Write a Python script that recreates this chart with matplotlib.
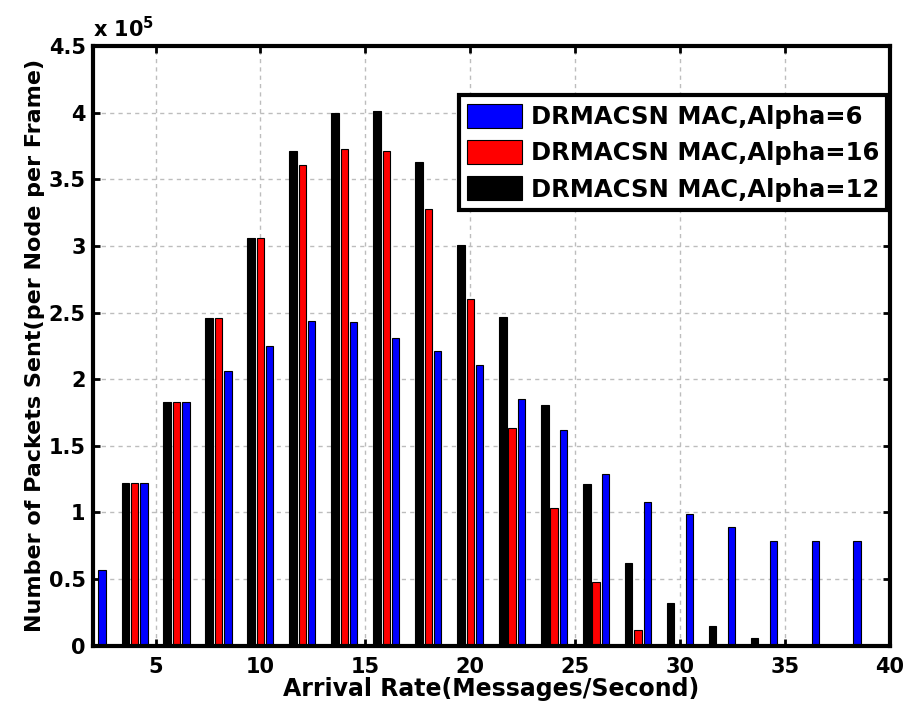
import matplotlib
matplotlib.use("Agg")
import matplotlib.pyplot as plt
import numpy as np

plt.rcParams['font.family'] = ['DejaVu Sans']
plt.rcParams['font.weight'] = 'bold'

arrival_rate = [2, 4, 6, 8, 10, 12, 14, 16, 18, 20, 22, 24, 26, 28, 30, 32, 34, 36, 38]
alpha6 = [0.57, 1.22, 1.83, 2.06, 2.25, 2.44, 2.43, 2.31, 2.21, 2.11, 1.85, 1.62, 1.29,
          1.08, 0.99, 0.89, 0.785, 0.785, 0.785]
alpha16 = [0.0, 1.22, 1.83, 2.46, 3.06, 3.61, 3.73, 3.71, 3.28, 2.60, 1.63, 1.03, 0.48,
           0.12, 0.0, 0.0, 0.0, 0.0, 0.0]
alpha12 = [0.0, 1.22, 1.83, 2.46, 3.06, 3.71, 4.00, 4.01, 3.63, 3.01, 2.47, 1.81, 1.21,
           0.62, 0.32, 0.15, 0.06, 0.0, 0.0]
labels = ['DRMACSN MAC,Alpha=6', 'DRMACSN MAC,Alpha=16', 'DRMACSN MAC,Alpha=12']
xticks = [5, 10, 15, 20, 25, 30, 35, 40]
yticks = [0, 0.5, 1, 1.5, 2, 2.5, 3, 3.5, 4, 4.5]
ytick_labels = ['0', '0.5', '1', '1.5', '2', '2.5', '3', '3.5', '4', '4.5']

fig = plt.figure(figsize=(9.08, 7.11), dpi=100)
ax = fig.add_axes([0.102, 0.092, 0.878, 0.843])

x = np.array(arrival_rate, dtype=float)
off = 0.444
w = 0.355
b1 = ax.bar(x - off, alpha12, w, color='black', edgecolor='black', linewidth=0.8, label=labels[2], zorder=2)
b2 = ax.bar(x, alpha16, w, color='#ff0000', edgecolor='black', linewidth=0.8, label=labels[1], zorder=2)
b3 = ax.bar(x + off, alpha6, w, color='#0000ff', edgecolor='black', linewidth=0.8, label=labels[0], zorder=2)

ax.set_xlim(2, 40)
ax.set_ylim(0, 4.5)
ax.set_xticks(xticks)
ax.set_yticks(yticks)
ax.set_yticklabels(ytick_labels)
ax.grid(True, color='#bdbdbd', linestyle=(0, (3, 3)), linewidth=1.0)
ax.set_axisbelow(True)
ax.tick_params(direction='in', length=5, width=2, top=True, right=True, labelsize=15)
ax.tick_params(axis='x', pad=8)
ax.tick_params(axis='y', pad=5)
for lab in ax.get_xticklabels() + ax.get_yticklabels():
    lab.set_fontweight('bold')
for s in ax.spines.values():
    s.set_linewidth(3)
    s.set_zorder(5)

ax.set_xlabel('Arrival Rate(Messages/Second)', fontsize=17, fontweight='bold', labelpad=0)
ax.set_ylabel('Number of Packets Sent(per Node per Frame)', fontsize=16, fontweight='bold', labelpad=3)
ax.text(0.0, 1.008, r'x 10$^{5}$', transform=ax.transAxes, fontsize=15, fontweight='bold',
        ha='left', va='bottom')

leg = ax.legend(handles=[b3, b2, b1], labels=labels, loc='upper right',
                bbox_to_anchor=(0.997, 0.918), fontsize=17.5, frameon=True, fancybox=False,
                framealpha=1.0, handlelength=2.25, handleheight=1.15, borderpad=0.35,
                labelspacing=0.45, handletextpad=0.35, borderaxespad=0.0)
leg.get_frame().set_edgecolor('black')
leg.get_frame().set_linewidth(3)
for t in leg.get_texts():
    t.set_fontweight('bold')

fig.savefig('out.png', dpi=100)
